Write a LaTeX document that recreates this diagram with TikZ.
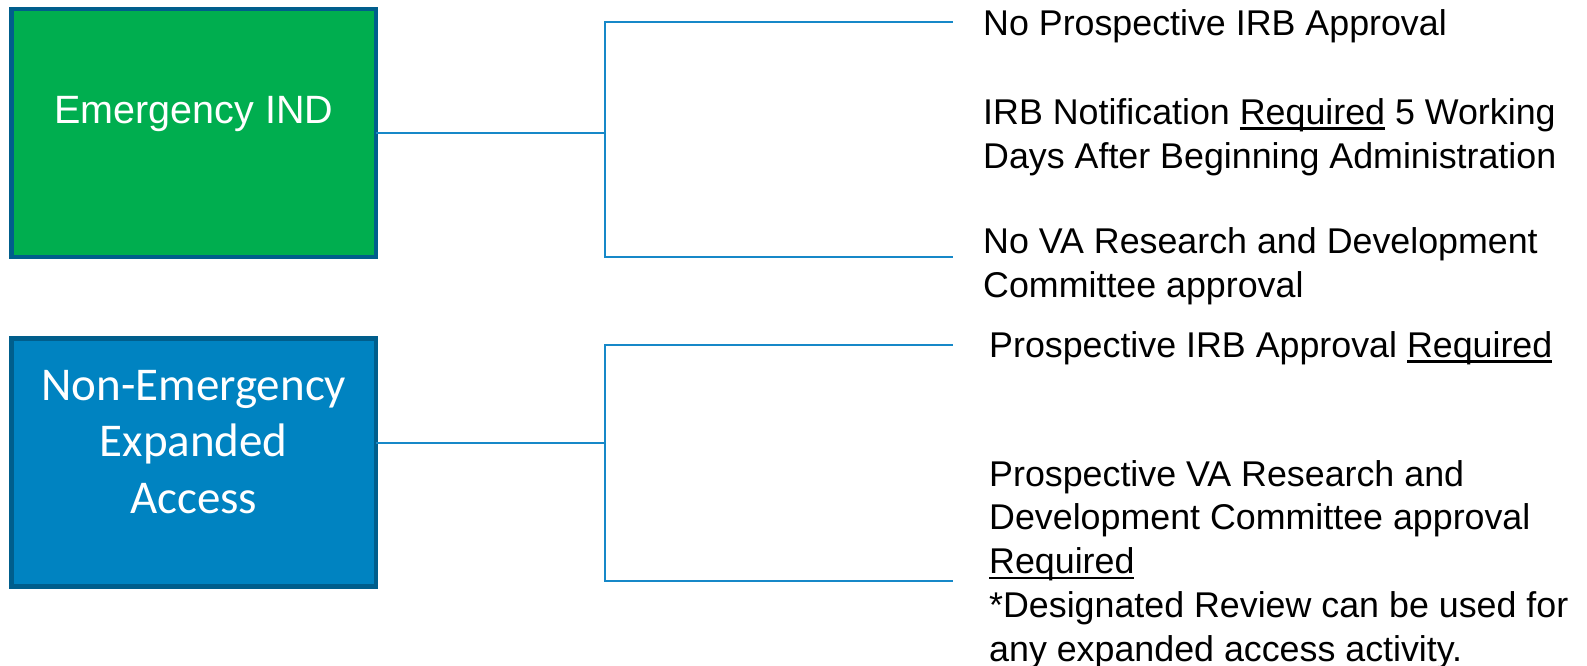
\documentclass[tikz,border=0pt]{standalone}
\usepackage{fontspec}
\setmainfont{Liberation Sans}
\newfontfamily\calibri{Carlito}
\definecolor{indgreen}{HTML}{00AE4F}
\definecolor{eablue}{HTML}{0083C1}
\definecolor{boxedge}{HTML}{005E8C}
\definecolor{linkblue}{HTML}{1688C8}
\newcommand{\undl}[1]{{\setbox0\hbox{#1}\rlap{\rule[-5.3pt]{\wd0}{2.4pt}}\box0}}
\begin{document}
\begin{tikzpicture}[x=1pt,y=-1pt]
	\tikzstyle{box}=[rectangle,draw=boxedge,line width=4.5pt,minimum width=364.5pt,minimum height=248pt,inner sep=0pt,outer sep=0pt]
	\tikzstyle{boxtext}=[text=white,inner sep=0pt,align=center,anchor=base]
	\tikzstyle{item}=[anchor=base west,inner sep=0pt,align=left,font=\fontsize{35.8}{43.7}\selectfont]
	\tikzstyle{link}=[draw=linkblue,line width=2pt]
	\useasboundingbox (0,0) rectangle (1587,665);
	% boxes (base of a multi-line node = its last line)
	\node[box,fill=indgreen] (b_1) at (193.75,133) {};
	\node[box,fill=eablue] (b_2) at (193.75,462.5) {};
	\node[boxtext,font=\fontsize{39.5}{45}\selectfont] (l_1) at (193.75,123.5) {Emergency IND};
	\node[boxtext,font=\calibri\fontsize{47}{56.5}\selectfont] (l_2) at (193.75,513) {Non-Emergency\\Expanded\\Access};
	% texts on the right
	\node[item] (t_1) at (983,35.7) {No Prospective IRB Approval};
	\node[item] (t_2) at (983,168) {IRB Notification \undl{Required} 5 Working\\Days After Beginning Administration};
	\node[item] (t_3) at (983,297) {No VA Research and Development\\Committee approval};
	\node[item] (t_4) at (989,357.5) {Prospective IRB Approval \undl{Required}};
	\node[item] (t_5) at (989,661) {Prospective VA Research and\\Development Committee approval\\\undl{Required}\\{*}Designated Review can be used for\\any expanded access activity.};
	% connectors
	\coordinate (j_1) at (605,133);
	\coordinate (e_1) at (952.7,21.7);
	\coordinate (e_2) at (952.7,257.3);
	\coordinate (j_2) at (605,443);
	\coordinate (e_3) at (952.7,345);
	\coordinate (e_4) at (952.7,581);
	\draw[link] (b_1.east |- j_1) -- (j_1) (e_1) -| (j_1) |- (e_2);
	\draw[link] (b_2.east |- j_2) -- (j_2) (e_3) -| (j_2) |- (e_4);
\end{tikzpicture}
\end{document}
